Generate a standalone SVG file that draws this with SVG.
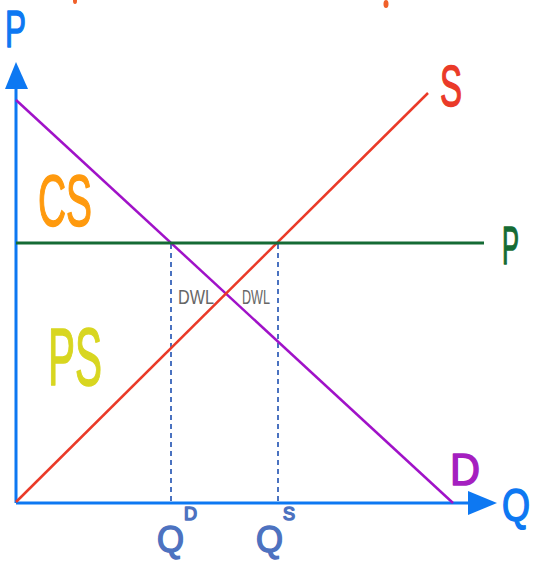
<svg xmlns="http://www.w3.org/2000/svg" width="540" height="568" viewBox="0 0 540 568">
<style>
.hand{font-family:"Liberation Sans","DejaVu Sans",sans-serif;}
.thick{stroke-width:1.5;stroke-linejoin:round;}
.axis{stroke:#0d78f2;stroke-width:3;fill:none;}
.dash{stroke:#4a72c0;stroke-width:2;stroke-dasharray:5 4;fill:none;}
</style>
<rect width="540" height="568" fill="#ffffff"/>
<g id="top-marks" fill="#f0602a">
<ellipse cx="75" cy="1" rx="2" ry="3"/>
<ellipse cx="386" cy="4" rx="2.5" ry="4"/>
</g>
<g id="axes">
<line class="axis" x1="16" y1="503" x2="16" y2="86"/>
<polygon points="16,62 5,89 28,89" fill="#0d78f2"/>
<line class="axis" x1="16" y1="503" x2="472" y2="503"/>
<polygon points="497,503 468,491 468,515" fill="#0d78f2"/>
</g>
<g id="connectors">
<line class="dash" x1="171" y1="244" x2="171" y2="502"/>
<line class="dash" x1="278" y1="244" x2="278" y2="502"/>
<line id="demand" x1="16" y1="100" x2="453" y2="503" stroke="#a012c8" stroke-width="2.5"/>
<line id="supply" x1="16" y1="502" x2="428" y2="93" stroke="#ea3a28" stroke-width="2.5"/>
<line id="price" x1="16" y1="243" x2="484" y2="243" stroke="#156b35" stroke-width="3"/>
</g>
<g id="labels" class="hand">
<text class="thick" x="5" y="47" font-size="52" fill="#0d78f2" stroke="#0d78f2" textLength="21" lengthAdjust="spacingAndGlyphs">P</text>
<text class="thick" x="440" y="106" font-size="58" fill="#ea3a28" stroke="#ea3a28" textLength="22" lengthAdjust="spacingAndGlyphs">S</text>
<text class="thick" x="502" y="264" font-size="54" fill="#156b35" stroke="#156b35" textLength="17" lengthAdjust="spacingAndGlyphs">P</text>
<text class="thick" x="450" y="485" font-size="44" fill="#a51fc0" stroke="#a51fc0" textLength="30" lengthAdjust="spacingAndGlyphs">D</text>
<text class="thick" x="502" y="521" font-size="46" fill="#0d78f2" stroke="#0d78f2" textLength="28" lengthAdjust="spacingAndGlyphs">Q</text>
<text class="thick" x="38" y="226" font-size="72" fill="#ff9a0e" stroke="#ff9a0e" textLength="54" lengthAdjust="spacingAndGlyphs">CS</text>
<text class="thick" x="48" y="385" font-size="82" fill="#d8d620" stroke="#d8d620" textLength="54" lengthAdjust="spacingAndGlyphs">PS</text>
<text x="178" y="304" font-size="20" fill="#666666" textLength="36" lengthAdjust="spacingAndGlyphs">DWL</text>
<text x="242" y="304" font-size="20" fill="#666666" textLength="28" lengthAdjust="spacingAndGlyphs">DWL</text>
<text class="thick" x="157" y="552" font-size="36" fill="#4d72c0" stroke="#4d72c0" textLength="27" lengthAdjust="spacingAndGlyphs">Q</text>
<text class="thick" x="184" y="520" font-size="18" fill="#4d72c0" stroke="#4d72c0" stroke-width="0.8">D</text>
<text class="thick" x="256" y="552" font-size="36" fill="#4d72c0" stroke="#4d72c0" textLength="27" lengthAdjust="spacingAndGlyphs">Q</text>
<text class="thick" x="283" y="520" font-size="18" fill="#4d72c0" stroke="#4d72c0" stroke-width="0.8">S</text>
</g>
</svg>
